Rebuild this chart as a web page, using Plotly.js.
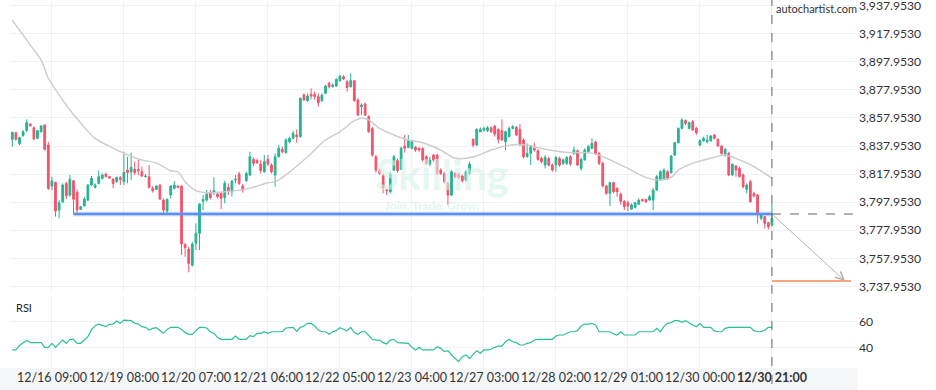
<!DOCTYPE html>
<html>
<head>
<meta charset="utf-8">
<script src="https://cdn.plot.ly/plotly-3.0.1.min.js"></script>
<style>html,body{margin:0;padding:0;background:#fff;}#chart{width:936px;height:390px;}</style>
</head>
<body>
<div id="chart"></div>
<script>
// ---- Data (hourly candles, index 0..211) ----
const openP = [
3842.7,3847.4,3839.6,3845.3,3848.9,3853.6,3851.0,3843.4,3848.1,3852.9,
3838.6,3809.4,3812.0,3792.3,3798.2,3811.3,3803.0,3813.2,3805.0,3792.8,
3795.2,3799.4,3810.1,3808.5,3811.3,3814.9,3818.0,3816.1,3814.4,3812.5,
3815.4,3812.5,3820.8,3819.4,3821.5,3821.3,3819.6,3816.1,3816.1,3807.8,
3807.0,3810.1,3799.4,3791.6,3803.0,3807.8,3809.4,3809.4,3767.8,3764.5,
3753.1,3768.6,3775.7,3798.7,3799.4,3804.9,3804.7,3803.7,3804.2,3801.3,
3808.5,3805.4,3813.7,3818.0,3809.4,3813.2,3817.3,3828.4,3827.5,3825.1,
3819.6,3828.4,3824.4,3817.3,3830.3,3835.6,3833.2,3840.9,3843.4,3845.8,
3844.6,3874.3,3870.2,3874.8,3874.8,3873.1,3870.2,3875.5,3882.6,3880.2,
3880.7,3884.5,3887.3,3883.8,3880.2,3884.5,3870.7,3866.0,3867.9,3858.8,
3850.5,3830.3,3820.8,3817.3,3807.0,3805.4,3820.8,3827.5,3821.3,3837.9,
3837.0,3836.3,3837.0,3836.3,3836.3,3830.3,3825.1,3831.5,3831.5,3820.8,
3818.4,3811.3,3803.0,3818.4,3818.0,3816.5,3813.7,3818.4,3842.7,3838.6,
3848.1,3849.3,3848.9,3851.0,3852.2,3849.8,3848.9,3841.0,3844.6,3850.5,
3851.2,3849.8,3842.2,3830.3,3832.7,3836.3,3834.6,3829.1,3824.4,3829.1,
3824.4,3824.4,3829.1,3825.6,3825.6,3830.3,3832.7,3834.6,3822.0,3828.0,
3833.9,3836.3,3840.8,3832.7,3825.6,3809.4,3804.2,3811.8,3807.8,3803.7,
3798.5,3797.5,3793.0,3794.2,3796.4,3799.9,3799.9,3799.4,3799.4,3806.6,
3813.7,3814.2,3819.6,3818.9,3831.5,3840.3,3850.5,3856.0,3850.5,3855.3,
3850.5,3838.6,3841.7,3841.0,3841.7,3845.8,3842.7,3837.9,3832.2,3832.7,
3817.3,3823.7,3822.0,3817.3,3807.0,3812.5,3804.2,3803.0,3786.4,3787.6,
3783.3,3781.6];
const highP = [
3848.1,3848.1,3844.6,3849.3,3856.9,3854.1,3851.7,3849.3,3852.9,3853.4,
3841.0,3816.1,3812.5,3799.4,3811.3,3812.5,3817.3,3813.7,3807.0,3795.2,
3801.8,3810.8,3816.6,3811.3,3820.4,3818.4,3818.9,3816.6,3814.9,3816.1,
3816.6,3833.9,3830.3,3833.2,3826.8,3828.0,3823.2,3818.0,3824.4,3809.4,
3810.1,3810.8,3800.6,3800.6,3810.1,3813.0,3809.9,3809.9,3769.0,3766.2,
3769.7,3782.8,3797.1,3803.0,3806.6,3806.6,3815.6,3805.4,3804.7,3813.2,
3811.3,3813.7,3817.3,3819.6,3810.9,3819.6,3833.9,3829.8,3829.1,3827.9,
3831.5,3831.5,3825.6,3832.7,3838.6,3837.5,3843.4,3844.6,3848.9,3849.8,
3872.6,3875.5,3875.5,3879.0,3876.7,3875.5,3875.5,3881.4,3883.8,3882.6,
3886.2,3888.5,3888.5,3885.0,3889.7,3885.0,3871.9,3868.3,3868.8,3860.0,
3851.7,3831.5,3822.0,3818.4,3807.8,3819.6,3831.5,3829.1,3837.5,3845.8,
3845.8,3842.2,3837.9,3837.0,3837.0,3831.5,3830.3,3832.2,3832.2,3822.0,
3819.6,3812.5,3820.8,3819.6,3818.9,3817.5,3820.8,3826.8,3843.4,3850.5,
3851.2,3851.7,3852.2,3851.7,3852.9,3850.5,3856.9,3848.9,3851.7,3852.9,
3852.2,3853.6,3843.4,3839.8,3838.6,3840.3,3835.6,3830.3,3831.5,3830.3,
3825.6,3830.8,3830.3,3829.1,3830.8,3831.5,3837.5,3835.6,3829.8,3836.3,
3838.6,3843.4,3841.7,3833.9,3826.8,3810.1,3812.5,3812.5,3808.5,3804.7,
3799.4,3799.0,3797.1,3798.2,3800.6,3800.4,3800.4,3803.0,3807.8,3817.3,
3820.8,3822.0,3820.8,3831.5,3841.0,3851.2,3857.7,3856.9,3855.3,3856.5,
3851.7,3842.7,3844.6,3845.8,3845.8,3846.5,3843.4,3838.6,3836.3,3833.9,
3825.6,3824.4,3823.2,3818.4,3811.3,3813.7,3805.4,3803.7,3789.5,3788.0,
3784.0,3796.6];
const lowP = [
3837.5,3841.7,3838.6,3844.6,3848.1,3851.7,3842.2,3842.7,3847.7,3834.6,
3806.6,3806.6,3787.6,3786.4,3797.1,3800.1,3801.8,3789.5,3790.0,3792.3,
3794.7,3799.0,3809.4,3807.8,3810.6,3814.1,3815.6,3814.6,3807.8,3811.8,
3810.1,3810.1,3811.3,3813.7,3817.3,3817.3,3816.1,3815.6,3807.8,3804.7,
3806.6,3799.4,3789.5,3789.5,3800.6,3807.0,3807.8,3760.2,3759.0,3747.9,
3751.9,3763.8,3763.8,3792.3,3798.2,3799.9,3803.0,3800.6,3792.8,3797.1,
3803.0,3801.8,3811.3,3810.1,3804.7,3812.5,3816.5,3823.7,3825.1,3818.4,
3818.9,3823.7,3818.4,3808.9,3829.8,3832.7,3832.7,3839.8,3842.7,3840.3,
3844.1,3870.2,3869.5,3871.2,3870.7,3866.0,3869.5,3875.0,3879.0,3879.7,
3880.2,3883.8,3885.0,3876.7,3879.7,3869.5,3859.3,3860.0,3859.3,3847.4,
3830.3,3818.9,3817.3,3804.2,3803.0,3804.2,3820.1,3818.9,3820.8,3833.2,
3836.3,3835.6,3833.9,3833.9,3826.8,3824.4,3823.7,3826.8,3817.3,3817.3,
3811.3,3795.9,3802.3,3814.9,3814.2,3811.8,3812.5,3817.3,3837.0,3837.9,
3847.7,3848.1,3847.9,3847.4,3844.6,3839.8,3841.7,3835.1,3844.1,3849.8,
3845.1,3837.9,3829.1,3829.8,3824.4,3833.9,3827.5,3825.6,3822.0,3823.2,
3819.6,3819.6,3823.2,3824.4,3824.4,3823.7,3831.5,3823.7,3820.4,3827.5,
3832.7,3835.6,3831.5,3824.4,3808.5,3803.0,3795.2,3804.2,3801.8,3796.0,
3792.3,3791.6,3792.3,3793.5,3795.9,3798.2,3797.5,3799.0,3792.3,3806.1,
3813.2,3813.7,3813.7,3818.4,3830.8,3839.8,3849.8,3852.9,3849.8,3848.9,
3845.8,3837.9,3841.0,3839.8,3841.0,3842.7,3837.5,3831.5,3830.3,3816.5,
3816.5,3816.1,3815.6,3807.8,3804.2,3797.5,3801.3,3782.8,3785.2,3779.2,
3778.5,3780.4];
const closeP = [
3847.7,3842.7,3843.9,3848.1,3854.8,3852.4,3842.9,3848.9,3852.2,3835.6,
3807.8,3813.0,3791.6,3797.5,3810.1,3802.5,3814.2,3800.0,3792.3,3794.7,
3800.1,3810.1,3814.9,3810.1,3816.1,3817.3,3816.1,3815.1,3811.3,3815.6,
3814.1,3819.2,3818.9,3822.7,3818.9,3820.4,3816.5,3816.5,3808.5,3806.1,
3809.4,3800.1,3792.3,3799.9,3809.4,3810.1,3808.5,3768.1,3765.5,3754.3,
3768.1,3775.7,3796.6,3799.9,3803.7,3801.1,3806.1,3801.8,3800.6,3811.3,
3805.4,3813.0,3814.2,3811.3,3806.6,3818.4,3830.3,3825.6,3826.1,3820.4,
3826.8,3825.1,3819.6,3830.3,3836.3,3833.9,3842.2,3843.4,3847.0,3844.6,
3871.9,3870.7,3873.6,3873.6,3873.1,3868.8,3874.3,3880.7,3880.2,3881.4,
3885.4,3887.8,3885.7,3879.7,3884.5,3870.2,3860.0,3867.2,3860.0,3848.1,
3831.5,3820.8,3818.4,3807.8,3806.1,3818.0,3830.3,3820.4,3836.3,3836.3,
3841.7,3841.0,3835.1,3835.1,3827.9,3825.6,3827.9,3827.9,3818.4,3818.4,
3812.5,3803.0,3819.6,3816.1,3815.6,3813.2,3819.6,3825.1,3838.6,3849.8,
3849.8,3850.5,3851.0,3848.1,3846.5,3842.7,3842.2,3848.1,3850.5,3851.7,
3845.8,3838.6,3830.3,3832.7,3837.5,3835.1,3828.4,3826.8,3829.8,3824.4,
3820.8,3829.8,3824.4,3828.0,3829.8,3825.1,3835.1,3824.4,3828.4,3835.1,
3837.5,3839.8,3832.7,3825.6,3809.4,3804.2,3811.8,3805.4,3805.4,3798.5,
3794.7,3795.2,3795.9,3797.5,3799.4,3799.0,3798.2,3801.8,3806.6,3816.1,
3819.6,3820.8,3814.9,3830.8,3840.3,3850.5,3856.5,3854.1,3854.6,3849.3,
3847.4,3841.7,3843.4,3842.2,3845.1,3843.4,3837.9,3832.7,3835.6,3817.3,
3824.9,3820.8,3816.1,3808.9,3810.1,3798.2,3802.3,3789.9,3788.7,3782.8,
3780.4,3786.4];
const rsiVals = [
38.5,38.5,42.0,44.1,45.9,44.1,44.1,44.1,44.1,40.5,
40.5,43.6,40.5,43.3,46.1,43.6,46.7,46.7,43.6,43.6,
45.9,48.7,54.1,57.2,58.4,57.4,56.4,58.2,58.4,60.8,
59.0,61.5,61.5,61.0,59.0,58.4,56.4,55.9,53.8,55.1,
55.6,53.3,51.3,54.3,55.9,55.9,55.9,54.3,51.8,50.5,
50.5,53.3,55.9,55.9,55.4,52.5,51.3,48.2,46.7,46.7,
46.7,46.7,49.2,46.7,46.7,46.7,49.5,48.7,51.3,51.3,
52.5,51.3,52.5,52.5,52.5,52.5,55.4,55.9,55.9,52.8,
55.9,56.9,59.0,59.0,56.9,53.8,52.5,52.5,50.5,52.5,
53.3,55.6,54.3,53.3,55.9,51.8,50.5,52.5,52.5,49.2,
46.7,46.1,46.1,44.1,43.1,46.1,46.7,44.1,44.1,44.1,
43.6,40.5,38.5,40.5,38.5,38.5,38.5,38.5,41.0,39.7,
37.2,37.9,34.6,32.0,29.5,33.3,34.6,32.0,34.6,37.9,
35.9,38.5,38.5,39.0,40.5,41.5,41.5,44.8,46.7,44.8,
44.1,42.3,42.3,43.6,44.1,46.1,46.7,46.7,46.7,46.7,
46.7,49.2,50.0,50.0,51.3,52.5,52.5,53.3,56.9,58.4,
58.4,59.0,57.7,52.5,52.5,52.5,52.5,50.8,50.0,52.5,
50.0,50.0,50.0,50.0,52.5,52.5,52.5,52.5,52.5,55.1,
52.5,56.4,59.0,59.5,61.0,61.0,59.7,61.0,59.0,57.7,
56.4,59.0,55.9,55.9,55.9,53.1,52.5,52.5,55.1,55.9,
55.9,55.9,55.9,55.9,55.9,55.9,53.3,52.5,52.5,53.8,
55.9,55.9];
// moving average (read at selected candles)
const maIdx = [0,2,5,8,10,14,16,19,23,28,30,35,40,44,46,48,51,54,59,66,71,73,76,82,87,91,95,97,99,102,106,110,114,119,123,128,133,138,143,148,154,160,163,166,171,176,180,183,185,189,195,198,202,206,211];
const maVal = [3927.7,3920.6,3909.9,3899.2,3886.4,3870.7,3863.6,3854.3,3843.4,3836.5,3833.9,3828.7,3825.8,3820.3,3819.6,3812.5,3806.1,3804.6,3805.4,3807.8,3811.8,3812.5,3817.3,3830.3,3842.2,3848.1,3856.0,3857.7,3856.5,3850.5,3845.8,3842.2,3840.3,3835.1,3829.2,3830.1,3835.1,3838.6,3838.6,3835.6,3833.4,3833.2,3831.5,3828.0,3822.0,3815.6,3813.7,3815.6,3820.8,3825.6,3829.9,3831.5,3828.0,3823.2,3814.9];
// x labels
const tickIdx = [11,31,51,71,91,111,131,151,171,191,211];
const tickLabels = ["12/16 09:00","12/19 08:00","12/20 07:00","12/21 06:00","12/22 05:00","12/23 04:00","12/27 03:00","12/28 02:00","12/29 01:00","12/30 00:00","<b>12/30 21:00</b>"];
const priceTicks = [3737.953,3757.953,3777.953,3797.953,3817.953,3837.953,3857.953,3877.953,3897.953,3917.953,3937.953];
const rsiTicks = [40,60];
// pattern
const supportLevel = 3789.5;
const supportStart = 17;
const lastIdx = 211;
const targetIdx = 231.3;
const targetLevel = 3741.7;
const targetLineEnd = 233;

const idx = openP.map((_, i) => i);

const font = 'Lato, "Open Sans", sans-serif';
const green = '#26b393', red = '#f2556d';

const traces = [
  {type:'scatter', mode:'text', x:[119.4], y:[3814.0], text:['Skilling'], textfont:{family:font, size:42, color:'rgba(214,243,232,0.6)', weight:700}, hoverinfo:'skip', xaxis:'x', yaxis:'y'},
  {type:'scatter', mode:'text', x:[116.6], y:[3794.6], text:['Join. Trade. Grow.'], textfont:{family:font, size:12, color:'rgba(214,243,232,0.7)', weight:700}, hoverinfo:'skip', xaxis:'x', yaxis:'y'},
  {type:'scatter', mode:'lines', x:maIdx, y:maVal, line:{color:'#cccccc', width:1.4, shape:'spline'}, hoverinfo:'skip', xaxis:'x', yaxis:'y'},
  {type:'candlestick', x:idx, open:openP, high:highP, low:lowP, close:closeP, xaxis:'x', yaxis:'y',
   increasing:{line:{color:green, width:1}, fillcolor:green},
   decreasing:{line:{color:red, width:1}, fillcolor:red}, whiskerwidth:0, hoverinfo:'skip'},
  {type:'scatter', mode:'lines', x:idx, y:rsiVals, line:{color:'#2cbf97', width:1.2}, hoverinfo:'skip', xaxis:'x', yaxis:'y2'}
];

const H = 367; // plot area height
const layout = {
  width:936, height:390,
  margin:{l:10, r:78, t:1, b:22},
  paper_bgcolor:'#ffffff', plot_bgcolor:'#ffffff',
  showlegend:false, hovermode:false,
  font:{family:font, color:'#333', size:12},
  xaxis:{range:[-0.64, 234.9], anchor:'y2', tickvals:tickIdx, ticktext:tickLabels, tickangle:0, showgrid:true, gridcolor:'#eef2f7', zeroline:false, showline:false, ticks:'', tickfont:{family:font, size:12.5, color:'#333'}, rangeslider:{visible:false}, fixedrange:true, automargin:false},
  yaxis:{domain:[(H-291)/H, 1], range:[3733.9, 3941.3], side:'right', tickvals:priceTicks, tickformat:',.4f', ticklabeloverflow:'allow', showgrid:true, gridcolor:'#eef2f7', zeroline:false, showline:false, ticks:'', tickfont:{family:font, size:12.2, color:'#333'}, automargin:false},
  yaxis2:{domain:[0, 72/H], range:[24.6, 80], side:'right', tickvals:rsiTicks, showgrid:true, gridcolor:'#eef2f7', zeroline:false, showline:false, ticks:'', tickfont:{family:font, size:12.2, color:'#333'}, automargin:false},
  shapes:[
    {type:'rect', xref:'paper', yref:'paper', x0:-10/848, x1:1, y0:-22/H, y1:0, fillcolor:'#f5f6f8', line:{width:0}, layer:'below'},
    {type:'line', xref:'x', yref:'y', x0:supportStart, x1:lastIdx, y0:supportLevel, y1:supportLevel, line:{color:'rgba(100,150,245,0.45)', width:4.5}},
    {type:'line', xref:'x', yref:'y', x0:supportStart, x1:lastIdx, y0:supportLevel, y1:supportLevel, line:{color:'#5b8ff2', width:2}},
    {type:'line', xref:'x', yref:'y', x0:lastIdx, x1:234.9, y0:supportLevel, y1:supportLevel, line:{color:'#666', width:1, dash:'dash'}},
    {type:'line', xref:'x', yref:'paper', x0:lastIdx, x1:lastIdx, y0:-16/H, y1:1.003, line:{color:'#666', width:1, dash:'dash'}},
    {type:'line', xref:'x', yref:'y', x0:lastIdx, x1:targetLineEnd, y0:targetLevel, y1:targetLevel, line:{color:'#f58a4e', width:1.5}}
  ],
  annotations:[
    {x:targetIdx, y:targetLevel, ax:lastIdx, ay:supportLevel, xref:'x', yref:'y', axref:'x', ayref:'y', showarrow:true, arrowhead:5, arrowsize:1.6, arrowwidth:1, arrowcolor:'#b3b3b3', text:''},
    {xref:'x', yref:'paper', x:lastIdx, y:1, xanchor:'left', yanchor:'top', xshift:2, yshift:1, text:'autochartist.com', showarrow:false, font:{family:font, size:11, color:'#333'}},
    {xref:'paper', yref:'paper', x:4/848, y:(H-306)/H, xanchor:'left', yanchor:'middle', text:'RSI', showarrow:false, font:{family:font, size:11, color:'#222'}}
  ]
};

Plotly.newPlot('chart', traces, layout, {staticPlot:true, displayModeBar:false});
</script>
</body>
</html>
